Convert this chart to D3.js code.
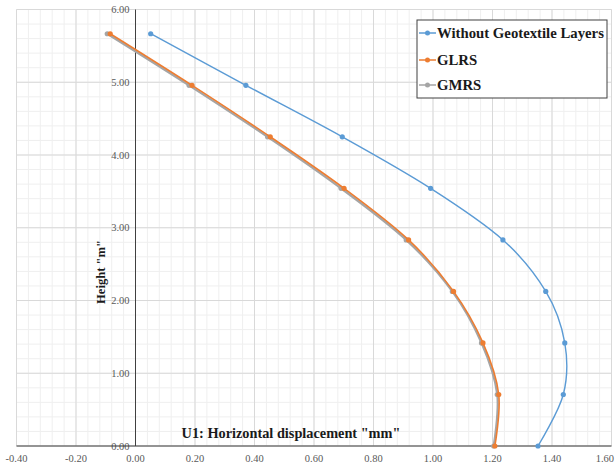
<!DOCTYPE html>
<html><head><meta charset="utf-8">
<script src="https://cdn.jsdelivr.net/npm/d3@7"></script>
<style>body{margin:0;background:#fff}svg{display:block}</style>
</head><body>
<svg id="c" width="615" height="466"></svg>
<script>
const heights = [0, 0.708, 1.417, 2.125, 2.833, 3.542, 4.25, 4.958, 5.667];
const withoutGeo = [1.353, 1.438, 1.443, 1.379, 1.235, 0.992, 0.695, 0.371, 0.051];
const glrs = [1.208, 1.221, 1.168, 1.069, 0.918, 0.701, 0.453, 0.190, -0.085];
const gmrs = [1.204, 1.216, 1.163, 1.065, 0.910, 0.691, 0.444, 0.180, -0.095];
const seriesNames = ["Without Geotextile Layers", "GLRS", "GMRS"];
const xTicks = [-0.4, -0.2, 0, 0.2, 0.4, 0.6, 0.8, 1.0, 1.2, 1.4, 1.6];
const yTicks = [0, 1, 2, 3, 4, 5, 6];
const xTitle = 'U1: Horizontal displacement "mm"';
const yTitle = 'Height "m"';

const colors = ["#5b9bd5", "#ed7d31", "#a5a5a5"];
const widths = [1.4, 1.6, 2.2];
const serif = "'Liberation Serif', 'DejaVu Serif', serif";

const svg = d3.select("#c");
const x = d3.scaleLinear().domain([-0.4, 1.6]).range([16.5, 611.5]);
const y = d3.scaleLinear().domain([0, 6]).range([446, 9.5]);

// grid
const g = svg.append("g");
const minorX = d3.range(-0.4, 1.6001, 0.04);
const minorY = d3.range(0, 6.0001, 0.2);
g.selectAll(".mx").data(minorX).enter().append("line")
  .attr("x1", d => x(d)).attr("x2", d => x(d)).attr("y1", y(6)).attr("y2", y(0))
  .attr("stroke", "#efefef").attr("stroke-width", 1);
g.selectAll(".my").data(minorY).enter().append("line")
  .attr("y1", d => y(d)).attr("y2", d => y(d)).attr("x1", x(-0.4)).attr("x2", x(1.6))
  .attr("stroke", "#efefef").attr("stroke-width", 1);
g.selectAll(".Mx").data(xTicks).enter().append("line")
  .attr("x1", d => x(d)).attr("x2", d => x(d)).attr("y1", y(6)).attr("y2", y(0))
  .attr("stroke", "#d9d9d9").attr("stroke-width", 1);
g.selectAll(".My").data(yTicks).enter().append("line")
  .attr("y1", d => y(d)).attr("y2", d => y(d)).attr("x1", x(-0.4)).attr("x2", x(1.6))
  .attr("stroke", "#d9d9d9").attr("stroke-width", 1);

// tick labels
svg.append("g").selectAll("text").data(yTicks).enter().append("text")
  .attr("x", x(0) - 6).attr("y", d => y(d)).attr("dy", "0.35em")
  .attr("text-anchor", "end").attr("font-family", serif).attr("font-size", 10.5)
  .attr("fill", "#595959").text(d => d.toFixed(2));
svg.append("g").selectAll("text").data(xTicks).enter().append("text")
  .attr("x", (d, i) => i === xTicks.length - 1 ? 614 : x(d)).attr("y", 462)
  .attr("text-anchor", (d, i) => i === xTicks.length - 1 ? "end" : "middle")
  .attr("font-family", serif).attr("font-size", 10.5)
  .attr("fill", "#595959").text(d => d.toFixed(2));

// axes lines
svg.append("line").attr("x1", x(0)).attr("x2", x(0)).attr("y1", y(6)).attr("y2", y(0))
  .attr("stroke", "#404040").attr("stroke-width", 1);
svg.append("line").attr("x1", x(-0.4)).attr("x2", x(1.6)).attr("y1", y(0)).attr("y2", y(0))
  .attr("stroke", "#404040").attr("stroke-width", 1.2);

// titles
function fit(sel, target) {
  const w = sel.node().getComputedTextLength();
  const fs = parseFloat(sel.attr("font-size"));
  sel.attr("font-size", fs * target / w);
}
const xt = svg.append("text").attr("x", 291).attr("y", 438).attr("text-anchor", "middle")
  .attr("font-family", serif).attr("font-weight", "bold").attr("font-size", 15)
  .attr("fill", "#1a1a1a").text(xTitle);
fit(xt, 219);
const yt = svg.append("text").attr("transform", "translate(105,272) rotate(-90)")
  .attr("text-anchor", "middle")
  .attr("font-family", serif).attr("font-weight", "bold").attr("font-size", 15)
  .attr("fill", "#1a1a1a").text(yTitle);
fit(yt, 64);

// series
const seriesData = [withoutGeo, glrs, gmrs];
const line = d3.line().x(d => x(d[0])).y(d => y(d[1])).curve(d3.curveCatmullRom.alpha(0));
const order = [2, 1, 0];
order.forEach(i => {
  const pts = seriesData[i].map((v, k) => [v, heights[k]]);
  svg.append("path").datum(pts).attr("d", line).attr("fill", "none")
    .attr("stroke", colors[i]).attr("stroke-width", widths[i]);
  svg.append("g").selectAll("circle").data(pts).enter().append("circle")
    .attr("cx", d => x(d[0])).attr("cy", d => y(d[1])).attr("r", 2.6)
    .attr("fill", colors[i]);
});

// legend
const lg = svg.append("g");
lg.append("rect").attr("x", 417).attr("y", 20).attr("width", 190).attr("height", 78)
  .attr("fill", "#fff").attr("stroke", "#404040").attr("stroke-width", 1);
const ly = [33, 60, 85];
seriesNames.forEach((n, i) => {
  lg.append("line").attr("x1", 419).attr("x2", 436).attr("y1", ly[i]).attr("y2", ly[i])
    .attr("stroke", colors[i]).attr("stroke-width", 1.5);
  lg.append("circle").attr("cx", 427.5).attr("cy", ly[i]).attr("r", 2.5).attr("fill", colors[i]);
  const t = lg.append("text").attr("x", 437).attr("y", ly[i]).attr("dy", "0.35em")
    .attr("font-family", serif).attr("font-weight", "bold").attr("font-size", 15)
    .attr("fill", "#1a1a1a").text(n);
  if (i === 0) fit(t, 167);
});
const fs0 = lg.select("text").attr("font-size");
lg.selectAll("text").attr("font-size", fs0);
</script>
</body></html>
